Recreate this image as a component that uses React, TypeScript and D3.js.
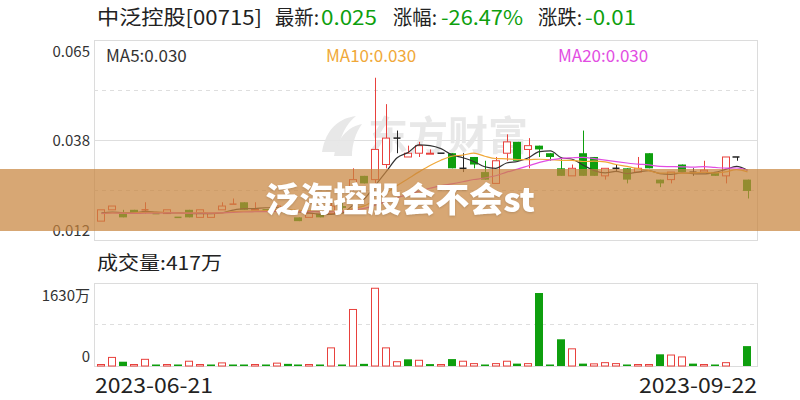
import * as d3 from "d3";

// closes before the first visible day, only used for the moving averages
const priorCloses = [0.019, 0.019, 0.02, 0.019, 0.019, 0.018, 0.019, 0.019, 0.02, 0.019, 0.019, 0.019, 0.018, 0.019, 0.019, 0.02, 0.019, 0.019, 0.018];

const opens = [
  0.017, 0.02, 0.019, 0.02, 0.02, 0.019, 0.019, 0.018, 0.02, 0.018,
  0.018, 0.02, 0.0215, 0.022, 0.02, 0.02, 0.02, 0.02, 0.018, 0.018,
  0.019, 0.019, 0.021, 0.026, 0.029, 0.028, 0.032, 0.039, 0.034, 0.035,
  0.0348, 0.035, 0.035, 0.031, 0.034, 0.03, 0.027, 0.035, 0.038, 0.036,
  0.037, 0.035, 0.031, 0.029, 0.035, 0.034, 0.029, 0.031, 0.031, 0.03,
  0.035, 0.028, 0.028, 0.032, 0.03, 0.03, 0.03, 0.029, 0.034, 0.028,
];
const highs = [
  0.02, 0.021, 0.02, 0.02, 0.022, 0.019, 0.02, 0.018, 0.02, 0.02,
  0.019, 0.022, 0.023, 0.022, 0.022, 0.02, 0.021, 0.02, 0.018, 0.019,
  0.019, 0.022, 0.022, 0.031, 0.029, 0.055, 0.048, 0.041, 0.037, 0.038,
  0.036, 0.035, 0.035, 0.035, 0.034, 0.033, 0.034, 0.04, 0.038, 0.039,
  0.037, 0.035, 0.034, 0.032, 0.041, 0.034, 0.031, 0.032, 0.031, 0.034,
  0.035, 0.028, 0.03, 0.032, 0.031, 0.033, 0.03, 0.034, 0.034, 0.028,
];
const lows = [
  0.017, 0.02, 0.018, 0.019, 0.019, 0.019, 0.019, 0.018, 0.018, 0.018,
  0.018, 0.02, 0.0215, 0.02, 0.02, 0.02, 0.02, 0.019, 0.017, 0.018,
  0.018, 0.019, 0.02, 0.025, 0.027, 0.027, 0.031, 0.035, 0.034, 0.034,
  0.0348, 0.035, 0.031, 0.03, 0.031, 0.028, 0.027, 0.033, 0.033, 0.031,
  0.034, 0.033, 0.029, 0.029, 0.029, 0.029, 0.028, 0.03, 0.027, 0.03,
  0.031, 0.026, 0.027, 0.03, 0.029, 0.03, 0.029, 0.027, 0.033, 0.023,
];
const closes = [
  0.02, 0.021, 0.018, 0.019, 0.02, 0.019, 0.02, 0.018, 0.018, 0.02,
  0.019, 0.021, 0.0215, 0.02, 0.0202, 0.02, 0.021, 0.019, 0.017, 0.019,
  0.018, 0.021, 0.0205, 0.028, 0.027, 0.036, 0.039, 0.039, 0.035, 0.037,
  0.035, 0.035, 0.031, 0.031, 0.032, 0.028, 0.033, 0.038, 0.033, 0.037,
  0.036, 0.034, 0.029, 0.031, 0.029, 0.029, 0.031, 0.031, 0.028, 0.031,
  0.031, 0.027, 0.03, 0.03, 0.03, 0.0305, 0.029, 0.034, 0.034, 0.025,
];
// volume in 万 shares, and whether the bar is drawn red (1) or green (0)
const volumes = [
  20, 180, 90, 20, 140, 15, 15, 15, 100, 15,
  15, 65, 15, 15, 15, 15, 60, 45, 15, 15,
  15, 380, 15, 1185, 45, 1630, 380, 90, 140, 120,
  40, 15, 145, 100, 50, 15, 50, 100, 50, 50,
  1530, 15, 560, 360, 50, 45, 70, 50, 20, 20,
  20, 245, 230, 190, 50, 20, 20, 70, 0, 417,
];
const volumeUp = [
  1, 1, 0, 1, 1, 0, 1, 0, 1, 1,
  0, 1, 0, 0, 1, 0, 1, 0, 0, 1,
  0, 1, 0, 1, 0, 1, 1, 1, 0, 1,
  0, 1, 0, 1, 1, 0, 1, 1, 0, 1,
  0, 0, 0, 1, 0, 1, 1, 1, 0, 1,
  1, 0, 1, 1, 0, 1, 0, 1, 1, 0,
];
const priceTicks = [0.065, 0.038, 0.012];
const volumeTicks = ["1630万", "0"];
const dateLabels = ["2023-06-21", "2023-09-22"];
const maPeriods = [5, 10, 20];
const maColors = ["#333333", "#f0a838", "#e24de2"];

const RED = "#e8413d";
const GREEN = "#0e9f0e";
const FONT = "'Noto Sans CJK SC', 'Noto Sans', sans-serif";

function movingAverage(period: number) {
  const all = [...priorCloses, ...closes];
  const offset = priorCloses.length;
  return closes.map((_, i) => d3.mean(all.slice(offset + i - period + 1, offset + i + 1)) ?? 0);
}

export default function App() {
  const left = 94;
  const right = 757;
  const top = 40;
  const bottom = 240;
  const vTop = 283;
  const vBottom = 366;

  const idx = closes.map((_, i) => i);
  const x = d3.scaleBand<number>().domain(idx).range([left + 2, right - 4]).paddingInner(0.25).paddingOuter(0.125);
  const bw = x.bandwidth();
  const cx = (i: number) => (x(i) ?? 0) + bw / 2;
  const y = d3.scaleLinear().domain([0.012, 0.065]).range([bottom, top]);
  const yv = d3.scaleLinear().domain([0, 1740]).range([vBottom, vTop]);

  const mas = maPeriods.map((p) => movingAverage(p));
  const line = d3
    .line<number>()
    .x((_, i) => cx(i))
    .y((v) => y(v))
    .curve(d3.curveMonotoneX);

  const candleColor = (i: number) => {
    const o = opens[i];
    const c = closes[i];
    if (c > o) return RED;
    if (c < o) return GREEN;
    const prev = i > 0 ? closes[i - 1] : c;
    if (c > prev) return RED;
    if (c < prev) return GREEN;
    return "#222";
  };

  const priceLabelY = [top + 17, (top + bottom) / 2 + 6, bottom - 4];
  const lastClose = closes[closes.length - 1];
  const prevClose = closes[closes.length - 2];
  const change = lastClose - prevClose;
  const pct = (change / prevClose) * 100;
  const fit = { lengthAdjust: "spacingAndGlyphs" as const };

  return (
    <svg width={800} height={400} style={{ position: "absolute", left: 0, top: 0, background: "#fff" }} fontFamily={FONT}>
      <rect width={800} height={400} fill="#fff" />
      {/* title */}
      <g fontSize={20}>
        <text x={97} y={25} fill="#222" textLength={165} {...fit}>中泛控股[00715]</text>
        <text x={275} y={25} fill="#222" textLength={44} {...fit}>最新:</text>
        <text x={321} y={25} fill={GREEN} textLength={56} {...fit}>{lastClose.toFixed(3)}</text>
        <text x={393} y={25} fill="#222" textLength={44} {...fit}>涨幅:</text>
        <text x={441} y={25} fill={GREEN} textLength={82} {...fit}>{pct.toFixed(2)}%</text>
        <text x={538} y={25} fill="#222" textLength={44} {...fit}>涨跌:</text>
        <text x={585} y={25} fill={GREEN} textLength={51} {...fit}>{change.toFixed(2)}</text>
      </g>

      {/* price panel */}
      <rect x={left + 0.5} y={top + 0.5} width={right - left} height={bottom - top} fill="none" stroke="#dcdcdc" />
      {[0.25, 0.5, 0.75].map((f) => (
        <line
          key={f}
          x1={left}
          x2={right}
          y1={Math.round(top + (bottom - top) * f) + 0.5}
          y2={Math.round(top + (bottom - top) * f) + 0.5}
          stroke="#dedede"
          strokeDasharray={f === 0.5 ? undefined : "4,4"}
        />
      ))}
      {priceTicks.map((t, k) => (
        <text key={t} x={90} y={priceLabelY[k]} textAnchor="end" fontSize={15} fill="#333">
          {t.toFixed(3)}
        </text>
      ))}

      {/* watermark */}
      <g fill="#e6e6e6" opacity={0.9}>
        <path d="M322,152 C326,128 340,118 356,116 C346,124 340,136 338,152 Z" />
        <path d="M334,156 C338,136 350,126 362,124 C356,132 352,144 352,156 Z" />
        <text x={368} y={150} fontSize={40} fontWeight={700}>东方财富</text>
      </g>

      {/* candles */}
      {idx.map((i) => {
        const color = candleColor(i);
        const o = y(opens[i]);
        const c = y(closes[i]);
        const h = y(highs[i]);
        const l = y(lows[i]);
        const bodyTop = Math.min(o, c);
        const bodyBottom = Math.max(o, c);
        const xl = Math.round(x(i) ?? 0) + 0.5;
        const xc = Math.round(cx(i)) + 0.5;
        const w = Math.round(bw) - 1;
        if (closes[i] > opens[i]) {
          return (
            <g key={i} stroke={color}>
              <line x1={xc} x2={xc} y1={h} y2={bodyTop} />
              <line x1={xc} x2={xc} y1={bodyBottom} y2={l} />
              <rect x={xl} y={bodyTop} width={w} height={Math.max(1, bodyBottom - bodyTop)} fill="#fff" />
            </g>
          );
        }
        if (closes[i] < opens[i]) {
          return (
            <g key={i}>
              <line x1={xc} x2={xc} y1={h} y2={l} stroke={color} />
              <rect x={xl - 0.5} y={bodyTop} width={w + 1} height={Math.max(1.5, bodyBottom - bodyTop)} fill={color} />
            </g>
          );
        }
        return (
          <g key={i} stroke={color}>
            <line x1={xc} x2={xc} y1={h} y2={l} />
            <line x1={xl} x2={xl + w} y1={c} y2={c} strokeWidth={1.5} />
          </g>
        );
      })}

      {/* moving averages */}
      {mas.map((m, k) => (
        <path key={k} d={line(m) ?? ""} fill="none" stroke={maColors[k]} strokeWidth={1.2} />
      ))}
      <g fontSize={17}>
        {maPeriods.map((p, k) => (
          <text key={p} x={[106, 326, 558][k]} y={62} fill={maColors[k]}>
            MA{p}:{mas[k][mas[k].length - 1].toFixed(3)}
          </text>
        ))}
      </g>

      {/* volume */}
      <text x={97} y={270} fontSize={19} fill="#222" textLength={125} {...fit}>
        成交量:{volumes[volumes.length - 1]}万
      </text>
      <rect x={left + 0.5} y={vTop + 0.5} width={right - left} height={vBottom - vTop} fill="none" stroke="#dcdcdc" />
      <line x1={left} x2={right} y1={(vTop + vBottom) / 2} y2={(vTop + vBottom) / 2} stroke="#dedede" strokeDasharray="4,4" />
      <text x={90} y={301} textAnchor="end" fontSize={15} fill="#333">{volumeTicks[0]}</text>
      <text x={90} y={362} textAnchor="end" fontSize={15} fill="#333">{volumeTicks[1]}</text>
      {idx.map((i) => {
        if (volumes[i] <= 0) return null;
        const xl = Math.round(x(i) ?? 0) + 0.5;
        const w = Math.round(bw) - 1;
        const yt = Math.min(yv(volumes[i]), vBottom - 1.5);
        const hgt = vBottom - yt;
        return volumeUp[i] ? (
          <rect key={i} x={xl} y={yt} width={w} height={hgt} fill="#fff" stroke={RED} />
        ) : (
          <rect key={i} x={xl - 0.5} y={yt} width={w + 1} height={hgt} fill={GREEN} />
        );
      })}

      {/* dates */}
      <text x={95} y={393} fontSize={21} fill="#222" textLength={118} {...fit}>{dateLabels[0]}</text>
      <text x={639} y={393} fontSize={21} fill="#222" textLength={118} {...fit}>{dateLabels[1]}</text>

      {/* banner */}
      <rect x={0} y={169} width={800} height={62} fill="rgba(199,133,63,0.72)" />
      <text
        x={400}
        y={212}
        textAnchor="middle"
        fontSize={34}
        fontWeight={900}
        fill="#fff"
        style={{ filter: "drop-shadow(0 1px 1px rgba(0,0,0,0.15))" }}
      >
        泛海控股会不会st
      </text>
    </svg>
  );
}
